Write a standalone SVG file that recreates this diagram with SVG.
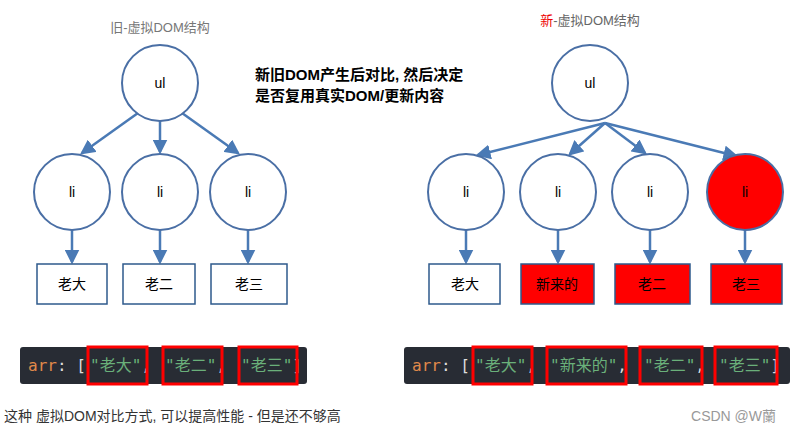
<svg xmlns="http://www.w3.org/2000/svg" width="792" height="434" viewBox="0 0 792 434">
<style>
text{font-family:"Liberation Sans","Noto Sans CJK SC",sans-serif}
.c{fill:#fff;stroke:#4a6fa5;stroke-width:2}
.b{fill:#fff;stroke:#2e5a8c;stroke-width:1.5}
.r{fill:#ff0000;stroke:#2e5a8c;stroke-width:1.5}
.t{font-size:14px;text-anchor:middle;fill:#000}
.e{stroke:#4a7ab5;stroke-width:2.5;fill:none;marker-end:url(#a)}
.code{font-family:"DejaVu Sans Mono","Noto Sans CJK SC",monospace;font-size:16px}
.hl{fill:none;stroke:#f00;stroke-width:3}
</style>
<defs><marker id="a" markerWidth="6" markerHeight="6" refX="5" refY="3" orient="auto" markerUnits="strokeWidth"><path d="M0,0L6,3L0,6z" fill="#4a7ab5"/></marker></defs>
<rect width="792" height="434" fill="#fff"/>
<text x="160" y="32" class="t" style="fill:#777;font-size:13px">旧-虚拟DOM结构</text>
<text x="590" y="25" class="t" style="fill:#666;font-size:13px"><tspan fill="#e00">新</tspan>-虚拟DOM结构</text>
<text x="255" y="80" style="font-size:15px;font-weight:bold">新旧DOM产生后对比, 然后决定</text>
<text x="255" y="101" style="font-size:15px;font-weight:bold">是否复用真实DOM/更新内容</text>
<g id="connectors">
<path class="e" d="M138,113L82,153"/><path class="e" d="M160,121L160,152"/><path class="e" d="M182,113L238,153"/>
<path class="e" d="M72,230L72,262"/><path class="e" d="M160,230L160,262"/><path class="e" d="M248,230L248,262"/>
<path class="e" d="M605,123L478,155"/><path class="e" d="M605,123L570,154"/><path class="e" d="M605,123L645,153"/><path class="e" d="M605,123L736,156"/>
<path class="e" d="M466,230L466,262"/><path class="e" d="M558,230L558,262"/><path class="e" d="M650,230L650,262"/><path class="e" d="M745,230L745,262"/>
</g>
<g id="ul1"><circle class="c" cx="160" cy="83" r="38"/><text class="t" x="160" y="88">ul</text></g>
<g id="li1"><circle class="c" cx="72" cy="192" r="38"/><text class="t" x="72" y="197">li</text></g>
<g id="li2"><circle class="c" cx="160" cy="192" r="38"/><text class="t" x="160" y="197">li</text></g>
<g id="li3"><circle class="c" cx="248" cy="192" r="38"/><text class="t" x="248" y="197">li</text></g>
<g id="b1"><rect class="b" x="37" y="264" width="70" height="40"/><text class="t" x="72" y="289">老大</text></g>
<g id="b2"><rect class="b" x="123" y="264" width="72" height="40"/><text class="t" x="159" y="289">老二</text></g>
<g id="b3"><rect class="b" x="211" y="264" width="76" height="40"/><text class="t" x="249" y="289">老三</text></g>
<g id="ul2"><circle class="c" cx="590" cy="83" r="38"/><text class="t" x="590" y="88">ul</text></g>
<g id="li4"><circle class="c" cx="466" cy="192" r="38"/><text class="t" x="466" y="197">li</text></g>
<g id="li5"><circle class="c" cx="558" cy="192" r="38"/><text class="t" x="558" y="197">li</text></g>
<g id="li6"><circle class="c" cx="650" cy="192" r="38"/><text class="t" x="650" y="197">li</text></g>
<g id="li7"><circle class="c" cx="745" cy="192" r="38" style="fill:#f00"/><text class="t" x="745" y="197">li</text></g>
<g id="b4"><rect class="b" x="429" y="264" width="71" height="40"/><text class="t" x="465" y="289">老大</text></g>
<g id="b5"><rect class="r" x="521" y="264" width="73" height="40"/><text class="t" x="557" y="289">新来的</text></g>
<g id="b6"><rect class="r" x="615" y="264" width="75" height="40"/><text class="t" x="652" y="289">老二</text></g>
<g id="b7"><rect class="r" x="711" y="264" width="71" height="40"/><text class="t" x="746" y="289">老三</text></g>
<g id="code1">
<rect x="20" y="347" width="287" height="37" rx="3" fill="#282c34"/>
<text x="28" y="371" class="code"><tspan fill="#e0894a">arr</tspan><tspan fill="#ddd">: [</tspan><tspan fill="#6ab07a" x="90">"老大"</tspan><tspan fill="#ddd">,</tspan><tspan fill="#6ab07a" x="165">"老二"</tspan><tspan fill="#ddd">,</tspan><tspan fill="#6ab07a" x="241">"老三"</tspan><tspan fill="#ddd">]</tspan></text>
<rect class="hl" x="88" y="347" width="59" height="37"/><rect class="hl" x="163" y="347" width="59" height="37"/><rect class="hl" x="239" y="347" width="58" height="37"/>
</g>
<g id="code2">
<rect x="404" y="347" width="386" height="37" rx="3" fill="#282c34"/>
<text x="412" y="371" class="code"><tspan fill="#e0894a">arr</tspan><tspan fill="#ddd">: [</tspan><tspan fill="#6ab07a" x="475">"老大"</tspan><tspan fill="#ddd">,</tspan><tspan fill="#6ab07a" x="550">"新来的"</tspan><tspan fill="#ddd">,</tspan><tspan fill="#6ab07a" x="644">"老二"</tspan><tspan fill="#ddd">,</tspan><tspan fill="#6ab07a" x="719">"老三"</tspan><tspan fill="#ddd">]</tspan></text>
<rect class="hl" x="473" y="347" width="59" height="37"/><rect class="hl" x="547" y="347" width="79" height="37"/><rect class="hl" x="640" y="347" width="62" height="37"/><rect class="hl" x="715" y="347" width="62" height="37"/>
</g>
<text x="4" y="421" style="font-size:14px;fill:#333">这种 虚拟DOM对比方式, 可以提高性能 - 但是还不够高</text>
<text x="776" y="421" style="font-size:14px;fill:#999;text-anchor:end">CSDN @W蘭</text>
</svg>
